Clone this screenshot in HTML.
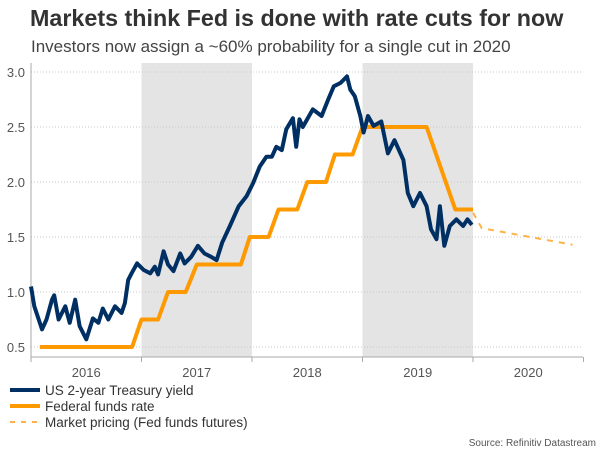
<!DOCTYPE html>
<html><head><meta charset="utf-8"><style>
body{margin:0;background:#fff;font-family:"Liberation Sans",sans-serif;}
svg text{font-family:"Liberation Sans",sans-serif;}
</style></head><body>
<svg width="600" height="450" viewBox="0 0 600 450" xmlns="http://www.w3.org/2000/svg">
<text x="30" y="26" font-size="23.3" font-weight="bold" fill="#333">Markets think Fed is done with rate cuts for now</text>
<text x="31" y="52" font-size="17" fill="#444">Investors now assign a ~60% probability for a single cut in 2020</text>
<g id="plot"></g>
<g>
<line x1="10" y1="390" x2="40" y2="390" stroke="#003063" stroke-width="4"/>
<text x="45" y="395" font-size="13.5" fill="#333">US 2-year Treasury yield</text>
<line x1="10" y1="406" x2="40" y2="406" stroke="#ff9900" stroke-width="4"/>
<text x="45" y="411" font-size="13.5" fill="#333">Federal funds rate</text>
<line x1="10" y1="422" x2="40" y2="422" stroke="#ffb347" stroke-width="2" stroke-dasharray="5,6"/>
<text x="45" y="427" font-size="13.5" fill="#333">Market pricing (Fed funds futures)</text>
</g>
<text x="596" y="446" font-size="10" fill="#555" text-anchor="end">Source: Refinitiv Datastream</text>
</svg>
<script>
const years=[2016,2017,2018,2019,2020];
const shadedYears=[2017,2019];
const yTicks=[0.5,1.0,1.5,2.0,2.5,3.0];
const yieldT=[0,0.03,0.1,0.14,0.19,0.21,0.25,0.31,0.35,0.40,0.44,0.50,0.56,0.61,0.65,0.70,0.76,0.82,0.85,0.88,0.91,0.96,1.02,1.08,1.12,1.15,1.20,1.24,1.29,1.35,1.39,1.45,1.51,1.57,1.63,1.68,1.73,1.80,1.88,1.95,2.01,2.07,2.13,2.18,2.22,2.27,2.31,2.37,2.40,2.43,2.46,2.55,2.63,2.69,2.74,2.80,2.86,2.89,2.93,2.98,3.01,3.05,3.10,3.17,3.23,3.29,3.37,3.41,3.46,3.52,3.58,3.62,3.67,3.70,3.74,3.79,3.85,3.91,3.95,3.99];
const yieldV=[1.05,0.87,0.66,0.75,0.93,0.97,0.75,0.87,0.72,0.93,0.69,0.57,0.76,0.72,0.85,0.75,0.87,0.81,0.9,1.11,1.17,1.26,1.2,1.17,1.23,1.16,1.37,1.25,1.19,1.35,1.26,1.32,1.42,1.35,1.32,1.29,1.45,1.6,1.78,1.87,1.99,2.14,2.23,2.23,2.32,2.29,2.48,2.58,2.32,2.57,2.5,2.66,2.6,2.75,2.87,2.9,2.96,2.84,2.78,2.6,2.45,2.6,2.51,2.55,2.26,2.38,2.2,1.9,1.78,1.9,1.78,1.57,1.48,1.78,1.42,1.6,1.66,1.6,1.66,1.61];
const fedT=[0.08,0.915,1.0,1.15,1.24,1.40,1.50,1.90,1.98,2.15,2.24,2.41,2.50,2.67,2.75,2.91,3.0,3.58,3.84,4.0];
const fedV=[0.5,0.5,0.75,0.75,1.0,1.0,1.25,1.25,1.5,1.5,1.75,1.75,2.0,2.0,2.25,2.25,2.5,2.5,1.75,1.75];
const mktT=[4.0,4.08,4.9];
const mktV=[1.72,1.58,1.43];

const X0=31,YW=110.5,XEND=583;
const xs=t=>X0+t*YW;
const ys=v=>347-(v-0.5)*110;
const NS='http://www.w3.org/2000/svg';
const g=document.getElementById('plot');
function mk(tag,attrs){const e=document.createElementNS(NS,tag);for(const k in attrs)e.setAttribute(k,attrs[k]);g.appendChild(e);return e;}
shadedYears.forEach(y=>{
 const r=mk('rect',{x:xs(y-2016),y:63,width:YW,height:294,fill:'#e4e4e4'});
 
 
});
yTicks.forEach(v=>{
 const l=mk('line',{x1:X0,x2:XEND,y1:ys(v),y2:ys(v),stroke:'#c8c8c8','stroke-dasharray':'1,2','stroke-width':1});
 
 
 const t=mk('text',{x:25,y:ys(v)+5,'font-size':13,fill:'#555','text-anchor':'end'});
 t.textContent=v.toFixed(1);
 
 
});
const ax=mk('line',{x1:X0,x2:XEND,y1:357,y2:357,stroke:'#aaa','stroke-width':1});


const ay=mk('line',{x1:X0,x2:X0,y1:63,y2:357,stroke:'#aaa','stroke-width':1});


years.forEach((y,i)=>{
 const tk=mk('line',{x1:xs(i),x2:xs(i),y1:357,y2:362,stroke:'#aaa'});
 
 
 const t=mk('text',{x:xs(i+0.5),y:377,'font-size':13,fill:'#555','text-anchor':'middle'});
 t.textContent=y;
 
 
});
const tk5=mk('line',{x1:xs(5),x2:xs(5),y1:357,y2:362,stroke:'#aaa'});


const pts=(T,V)=>T.map((t,i)=>xs(t).toFixed(1)+','+ys(V[i]).toFixed(1)).join(' ');
const m=mk('polyline',{points:pts(mktT,mktV),fill:'none',stroke:'#ffb347','stroke-width':2,'stroke-dasharray':'6,6'});


const f=mk('polyline',{points:pts(fedT,fedV),fill:'none',stroke:'#ff9900','stroke-width':4,'stroke-linejoin':'round'});


const yl=mk('polyline',{points:pts(yieldT,yieldV),fill:'none',stroke:'#003063','stroke-width':4,'stroke-linejoin':'round'});


</script>
</body></html>
